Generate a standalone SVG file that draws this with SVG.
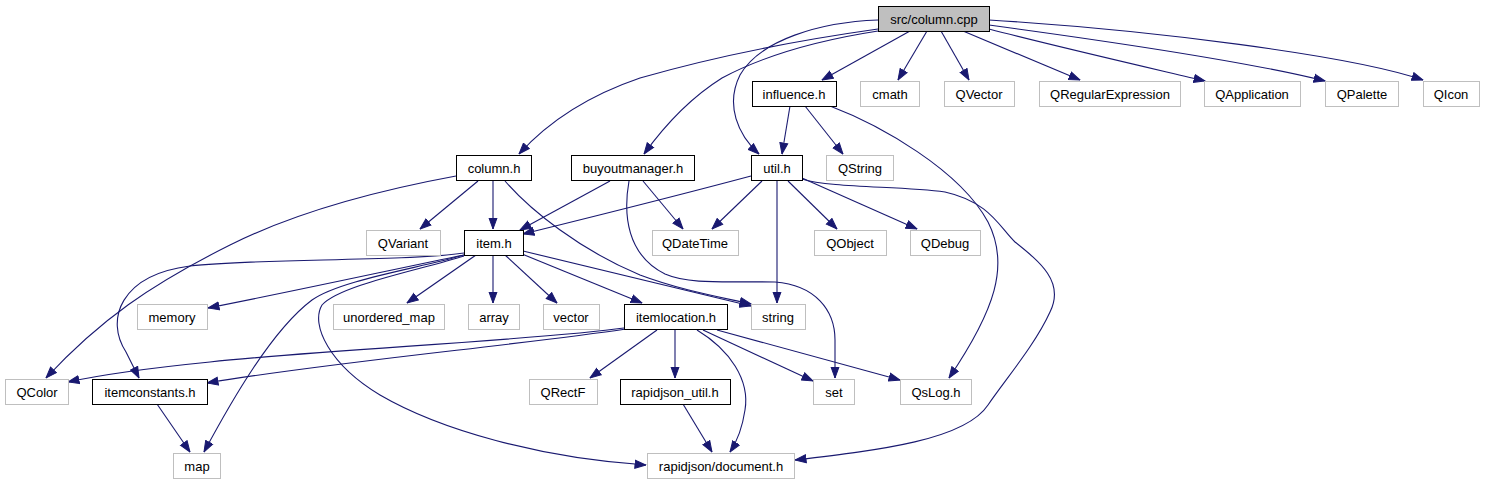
<svg xmlns="http://www.w3.org/2000/svg" width="1485" height="485" viewBox="0 0 1485 485">
<style>
.n rect{fill:#fff;stroke:#000;stroke-width:1}
.x rect{fill:#fff;stroke:#bfbfbf;stroke-width:1}
.s rect{fill:#bfbfbf;stroke:#000;stroke-width:1}
text{font-family:"Liberation Sans",Arial,sans-serif;font-size:13px;fill:#000;text-anchor:middle}
#edges path{fill:none;stroke:#191970;stroke-width:1.1;marker-end:url(#a)}
</style>
<defs>
<marker id="a" markerUnits="userSpaceOnUse" markerWidth="12" markerHeight="10" viewBox="0 0 12 10" refX="11.5" refY="5" orient="auto">
<path d="M0.5,1 L11.5,5 L0.5,9 z" fill="#191970" stroke="#191970"/>
</marker>
</defs>
<rect width="1485" height="485" fill="#fff"/>
<g id="edges">
<path d="M878,29 C800,40 720,55 640,78 C590,95 548,122 519,154"/>
<path d="M878,31 C820,40 765,55 722,78 C690,98 665,125 644,154"/>
<path d="M878,20 C820,22 760,40 740,75 C725,105 738,135 759,154"/>
<path d="M910,31 L822,80"/>
<path d="M927,31 L898,80"/>
<path d="M941,31 L969,80"/>
<path d="M963,31 L1080,80"/>
<path d="M989,29 C1050,45 1150,68 1205,81"/>
<path d="M989,25 C1100,40 1250,62 1325,81"/>
<path d="M989,20 C1150,30 1350,55 1423,80"/>
<path d="M790,106 L782,154"/>
<path d="M805,106 L843,154"/>
<path d="M830,106 C880,125 960,170 988,222 C1010,265 995,310 949,378"/>
<path d="M751,176 C680,195 600,215 523,234"/>
<path d="M762,181 L712,229"/>
<path d="M777,181 L777,303"/>
<path d="M788,181 L837,229"/>
<path d="M802,178 L917,229"/>
<path d="M802,179 C830,188 900,186 945,192 C990,202 1000,228 1015,242 C1040,262 1065,282 1050,312 C1035,345 1005,380 988,405 C965,440 880,450 795,460"/>
<path d="M610,181 L520,230"/>
<path d="M643,181 L683,229"/>
<path d="M629,181 C623,215 627,255 665,274 C690,285 730,281 775,282 C815,285 835,310 835,340 L835,378"/>
<path d="M456,176 C380,190 300,210 230,245 C150,285 100,320 46,378"/>
<path d="M478,181 L420,229"/>
<path d="M493,181 L493,229"/>
<path d="M505,181 C530,210 580,250 640,275 C680,290 720,297 751,304"/>
<path d="M464,253 C400,262 260,258 190,266 C120,275 105,320 126,352 L139,378"/>
<path d="M464,255 C400,268 300,290 208,308"/>
<path d="M464,255 C420,268 340,280 312,300 C272,330 232,400 204,452"/>
<path d="M464,256 C420,270 340,285 322,305 C310,325 330,365 380,395 C440,430 540,458 646,465"/>
<path d="M476,255 L407,303"/>
<path d="M493,255 L493,303"/>
<path d="M505,255 L557,303"/>
<path d="M522,254 L642,303"/>
<path d="M523,251 L751,306"/>
<path d="M624,328 C540,340 320,350 210,362 C150,368 105,374 68,382"/>
<path d="M626,329 C520,345 330,362 207,383"/>
<path d="M657,330 L590,378"/>
<path d="M675,330 L675,378"/>
<path d="M697,330 C730,350 750,380 745,410 C742,430 736,443 730,452"/>
<path d="M703,330 L813,381"/>
<path d="M717,330 L900,380"/>
<path d="M157,404 L190,452"/>
<path d="M683,404 L712,452"/>
</g>
<g id="n_cpp" class="s"><rect x="878.5" y="6.5" width="111" height="25"/><text x="934" y="23.5">src/column.cpp</text></g>
<g id="n_influence" class="n"><rect x="752.5" y="81.5" width="84" height="25"/><text x="794" y="98.5">influence.h</text></g>
<g id="n_cmath" class="x"><rect x="860.5" y="81.5" width="59" height="25"/><text x="890" y="98.5">cmath</text></g>
<g id="n_qvector" class="x"><rect x="944.5" y="81.5" width="70" height="25"/><text x="979" y="98.5">QVector</text></g>
<g id="n_qregex" class="x"><rect x="1039.5" y="81.5" width="141" height="25"/><text x="1110" y="98.5">QRegularExpression</text></g>
<g id="n_qapp" class="x"><rect x="1204.5" y="81.5" width="96" height="25"/><text x="1252" y="98.5">QApplication</text></g>
<g id="n_qpalette" class="x"><rect x="1325.5" y="81.5" width="73" height="25"/><text x="1362" y="98.5">QPalette</text></g>
<g id="n_qicon" class="x"><rect x="1423.5" y="81.5" width="56" height="25"/><text x="1451" y="98.5">QIcon</text></g>
<g id="n_columnh" class="n"><rect x="456.5" y="155.5" width="75" height="25"/><text x="494" y="172.5">column.h</text></g>
<g id="n_buyout" class="n"><rect x="571.5" y="155.5" width="123" height="25"/><text x="633" y="172.5">buyoutmanager.h</text></g>
<g id="n_util" class="n"><rect x="751.5" y="155.5" width="51" height="25"/><text x="777" y="172.5">util.h</text></g>
<g id="n_qstring" class="x"><rect x="826.5" y="155.5" width="67" height="25"/><text x="860" y="172.5">QString</text></g>
<g id="n_qvariant" class="x"><rect x="366.5" y="230.5" width="74" height="25"/><text x="403" y="247.5">QVariant</text></g>
<g id="n_item" class="n"><rect x="464.5" y="230.5" width="59" height="25"/><text x="494" y="247.5">item.h</text></g>
<g id="n_qdatetime" class="x"><rect x="652.5" y="230.5" width="86" height="25"/><text x="695" y="247.5">QDateTime</text></g>
<g id="n_qobject" class="x"><rect x="814.5" y="230.5" width="72" height="25"/><text x="850" y="247.5">QObject</text></g>
<g id="n_qdebug" class="x"><rect x="910.5" y="230.5" width="70" height="25"/><text x="945" y="247.5">QDebug</text></g>
<g id="n_memory" class="x"><rect x="137.5" y="304.5" width="70" height="25"/><text x="172" y="321.5">memory</text></g>
<g id="n_umap" class="x"><rect x="333.5" y="304.5" width="111" height="25"/><text x="389" y="321.5">unordered_map</text></g>
<g id="n_array" class="x"><rect x="468.5" y="304.5" width="51" height="25"/><text x="494" y="321.5">array</text></g>
<g id="n_vector" class="x"><rect x="543.5" y="304.5" width="56" height="25"/><text x="571" y="321.5">vector</text></g>
<g id="n_itemloc" class="n"><rect x="624.5" y="304.5" width="103" height="25"/><text x="676" y="321.5">itemlocation.h</text></g>
<g id="n_string" class="x"><rect x="751.5" y="304.5" width="54" height="25"/><text x="778" y="321.5">string</text></g>
<g id="n_qcolor" class="x"><rect x="5.5" y="379.5" width="63" height="25"/><text x="37" y="396.5">QColor</text></g>
<g id="n_itemconst" class="n"><rect x="92.5" y="379.5" width="115" height="25"/><text x="150" y="396.5">itemconstants.h</text></g>
<g id="n_qrectf" class="x"><rect x="529.5" y="379.5" width="68" height="25"/><text x="563" y="396.5">QRectF</text></g>
<g id="n_rjutil" class="n"><rect x="620.5" y="379.5" width="110" height="25"/><text x="675" y="396.5">rapidjson_util.h</text></g>
<g id="n_set" class="x"><rect x="813.5" y="379.5" width="41" height="25"/><text x="834" y="396.5">set</text></g>
<g id="n_qslog" class="x"><rect x="900.5" y="379.5" width="71" height="25"/><text x="936" y="396.5">QsLog.h</text></g>
<g id="n_map" class="x"><rect x="173.5" y="453.5" width="47" height="25"/><text x="197" y="470.5">map</text></g>
<g id="n_rjdoc" class="x"><rect x="647.5" y="453.5" width="147" height="25"/><text x="721" y="470.5">rapidjson/document.h</text></g>
</svg>
